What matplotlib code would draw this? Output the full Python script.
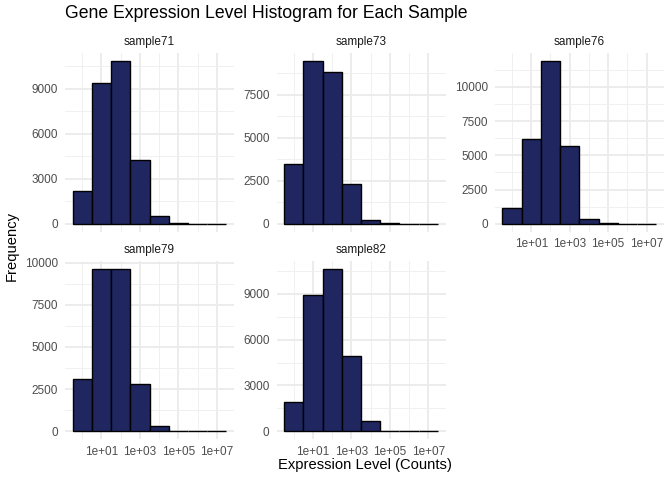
import numpy as np
import matplotlib
matplotlib.use("Agg")
import matplotlib.pyplot as plt
from matplotlib.ticker import FixedLocator, FuncFormatter, NullFormatter

plt.rcParams['font.family'] = ['Liberation Sans', 'DejaVu Sans']

# histogram bins: one per decade, centred on log10 = 0..7
bin_centers = np.arange(8)
samples = ['sample71', 'sample73', 'sample76', 'sample79', 'sample82']
sample71 = [2160, 9400, 10840, 4240, 530, 60, 15, 5]
sample73 = [3470, 9450, 8800, 2290, 230, 50, 12, 5]
sample76 = [1145, 6180, 11880, 5650, 390, 50, 12, 5]
sample79 = [3080, 9610, 9590, 2800, 300, 40, 12, 5]
sample82 = [1920, 8930, 10620, 4950, 650, 40, 12, 5]
counts = [sample71, sample73, sample76, sample79, sample82]
y_steps = [3000, 2500, 2500, 2500, 3000]

fig = plt.figure(figsize=(6.72, 4.8), dpi=100)

W, H = 672, 480
col_x = [65, 276.5, 494.8]
row_y = [(53, 232), (261, 439.4)]
pw = 169
positions = [(0, 0), (0, 1), (0, 2), (1, 0), (1, 1)]
show_x = [False, False, True, True, True]

left_edges = 10.0 ** (bin_centers - 0.5)
widths = 10.0 ** (bin_centers + 0.5) - left_edges

for i, name in enumerate(samples):
    r, c = positions[i]
    top, bot = row_y[r]
    ax = fig.add_axes([col_x[c] / W, 1 - bot / H, pw / W, (bot - top) / H])
    ax.set_xscale('log')
    ax.bar(left_edges, counts[i], width=widths, align='edge',
           color='#1f2660', edgecolor='black', linewidth=1.0, zorder=3)
    ymax = max(counts[i])
    ax.set_ylim(-0.05 * ymax, 1.05 * ymax)
    ax.set_xlim(10 ** -0.9, 10 ** 7.9)

    step = y_steps[i]
    yt = np.arange(0, ymax * 1.05 + 1, step)
    ax.yaxis.set_major_locator(FixedLocator(yt))
    ax.yaxis.set_minor_locator(FixedLocator(np.arange(step / 2, ymax * 1.05, step)))
    ax.yaxis.set_major_formatter(FuncFormatter(lambda v, p: f"{int(v)}"))

    ax.xaxis.set_major_locator(FixedLocator([1e-1, 1e1, 1e3, 1e5, 1e7]))
    ax.xaxis.set_minor_locator(FixedLocator([1e0, 1e2, 1e4, 1e6]))
    ax.xaxis.set_minor_formatter(NullFormatter())
    if show_x[i]:
        ax.xaxis.set_major_formatter(FuncFormatter(lambda v, p: f"{v:.0e}"))
    else:
        ax.xaxis.set_major_formatter(NullFormatter())

    ax.grid(which='major', color='#ebebeb', linewidth=1.3)
    ax.grid(which='minor', color='#f0f0f0', linewidth=0.7)
    ax.set_axisbelow(True)
    for s in ax.spines.values():
        s.set_visible(False)
    ax.tick_params(which='both', length=0, labelsize=8.5, colors='#4d4d4d')
    ax.tick_params(axis='y', pad=5)
    ax.tick_params(axis='x', pad=4.5)
    ax.set_facecolor('white')

    fig.text((col_x[c] + pw / 2) / W, 1 - (top - 11) / H, name,
             ha='center', va='center', fontsize=8.5, color='#1a1a1a')

fig.text(65 / W, 1 - 14 / H, 'Gene Expression Level Histogram for Each Sample',
         ha='left', va='center', fontsize=12.7, color='black')
fig.text(364.5 / W, 1 - 465 / H, 'Expression Level (Counts)',
         ha='center', va='center', fontsize=10.6, color='black')
fig.text(12 / W, 1 - 246 / H, 'Frequency', rotation=90,
         ha='center', va='center', fontsize=10.6, color='black')

fig.savefig('out.png', dpi=100)
